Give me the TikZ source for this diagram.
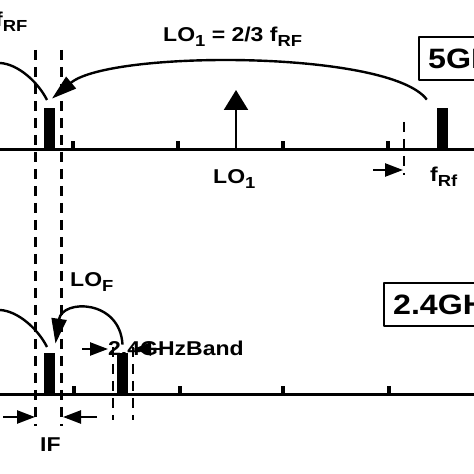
\documentclass[tikz,border=0pt]{standalone}
\usepackage{fontspec}
\setmainfont{Liberation Sans}[FakeStretch=1.15]
\usetikzlibrary{arrows.meta}
\newcommand\lowtxt[1]{\raisebox{-5pt}{\fontsize{16}{16}\selectfont #1}}
\begin{document}
\begin{tikzpicture}[x=1pt, y=1pt, line join=round,
  font=\fontsize{20}{24}\selectfont\bfseries,
  axisline/.style={line width=3pt},
  sigbar/.style={fill=black, inner sep=0pt, minimum width=11pt, minimum height=42pt, anchor=south},
  tickmark/.style={fill=black, inner sep=0pt, minimum width=4pt, minimum height=9pt, anchor=south},
  bandedge/.style={line width=2.6pt, dash pattern=on 10pt off 7pt},
  mixarrow/.style={line width=2.4pt, -{Triangle[length=25pt,width=15pt]}},
  gaparrow/.style={line width=2.4pt, -{Triangle[length=18pt,width=13pt]}},
  lbl/.style={inner sep=0pt, anchor=base west},
  bandbox/.style={draw, line width=2.2pt, font=\fontsize{28}{32}\selectfont\bfseries, minimum height=43pt, inner xsep=9pt, anchor=west}]
\useasboundingbox (0,0) rectangle (474,474);
\clip (0,0) rectangle (474,474);
% 5GHz spectrum
\coordinate (T0) at (-5,324);
\coordinate (T1) at (480,324);
\draw[axisline] (T0) -- (T1);
\foreach \x [count=\i] in {73,178,283,388}
  \node[tickmark] (tt\i) at (\x,324) {};
\node[sigbar] (img) at (49.5,324) {};
\node[sigbar] (rf) at (442.5,324) {};
% LO1
\coordinate (lo) at (236,324);
\coordinate (lotip) at (236,384);
\draw[line width=2.2pt, -{Triangle[length=20pt,width=24pt]}] (lo) -- (lotip);
\node[lbl] (lolbl) at (213,290) {LO\lowtxt{1}};
\node[lbl] (rflbl) at (430,292) {f\lowtxt{Rf}};
\node[lbl] (lotxt) at (163,432) {LO\lowtxt{1} = 2/3 f\lowtxt{RF}};
\node[lbl] (frf) at (-5,447) {f\lowtxt{RF}};
\node[bandbox] (box5) at (418,415.5) {5GHz};
% mixing arcs
\coordinate (rfs) at ([xshift=-10pt,yshift=8pt]rf.north west);
\coordinate (imt) at ([xshift=2.5pt,yshift=9pt]img.north);
\draw[mixarrow] (rfs) .. controls (390,424) and (110,424) .. (imt);
\coordinate (la0) at (0,411);
\coordinate (la1) at (47,374);
\draw[line width=2.4pt] (la0) .. controls (18,410) and (38,392) .. (la1);
% band edge 5GHz
\coordinate (d3t) at (404,352);
\coordinate (d3b) at (404,299);
\draw[bandedge] (d3t) -- (d3b);
\coordinate (g1) at (373,304);
\coordinate (g1e) at (403,304);
\draw[gaparrow] (g1) -- (g1e);
% IF filter edges
\coordinate (d1t) at (35.5,424);
\coordinate (d1b) at (35.5,48);
\coordinate (d2t) at (61.5,424);
\coordinate (d2b) at (61.5,48);
\draw[bandedge] (d1t) -- (d1b);
\draw[bandedge] (d2t) -- (d2b);
% 2.4GHz spectrum
\coordinate (B0) at (-5,79);
\coordinate (B1) at (480,79);
\draw[axisline] (B0) -- (B1);
\foreach \x [count=\i] in {74,180,283,389}
  \node[tickmark] (bt\i) at (\x,79) {};
\node[sigbar] (bif) at (49.5,79) {};
\node[sigbar] (b24) at (122.5,79) {};
\node[bandbox] (box24) at (383,169.5) {2.4GHz};
\node[lbl] (lof) at (70,187) {LO\lowtxt{F}};
% LOF arc
\coordinate (b24s) at ([yshift=8pt]b24.north);
\coordinate (bift) at ([xshift=6pt,yshift=9pt]bif.north);
\draw[mixarrow] (b24s) .. controls (120,175) and (62,175) .. (bift);
\coordinate (lb0) at (0,164);
\coordinate (lb1) at (47,127);
\draw[line width=2.4pt] (lb0) .. controls (18,163) and (38,145) .. (lb1);
% 2.4GHz band edges
\coordinate (d4t) at (113,127);
\coordinate (d4b) at (113,54);
\coordinate (d5t) at (133,127);
\coordinate (d5b) at (133,54);
\draw[bandedge] (d4t) -- (d4b);
\draw[bandedge] (d5t) -- (d5b);
\node[lbl] (band) at (108,118) {2.4GHzBand};
\coordinate (g2) at (82,125);
\coordinate (g2e) at (108,125);
\draw[gaparrow] (g2) -- (g2e);
\coordinate (g3) at (160,125);
\coordinate (g3e) at (133,125);
\draw[gaparrow] (g3) -- (g3e);
% IF
\coordinate (g4) at (3,57);
\coordinate (g4e) at (35,57);
\draw[gaparrow] (g4) -- (g4e);
\coordinate (g5) at (97,57);
\coordinate (g5e) at (63,57);
\draw[gaparrow] (g5) -- (g5e);
\node[lbl] (iflbl) at (40,22) {IF};
\end{tikzpicture}
\end{document}
